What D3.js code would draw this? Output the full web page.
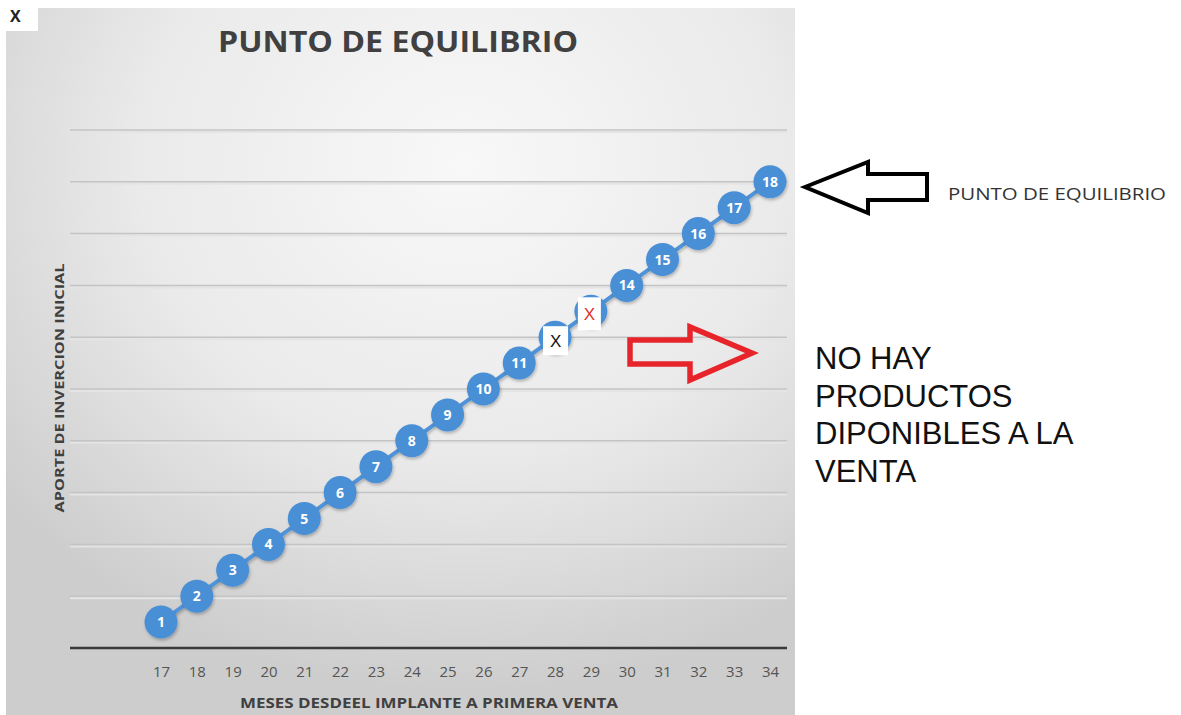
<!DOCTYPE html>
<html>
<head>
<meta charset="utf-8">
<script src="https://cdn.jsdelivr.net/npm/d3@7"></script>
<style>
  body { margin: 0; background: #fff; }
  svg { display: block; }
</style>
</head>
<body>
<div class="canvas"></div>
<script>
// months on the x axis and the counter shown inside each marker
const months = [17, 18, 19, 20, 21, 22, 23, 24, 25, 26, 27, 28, 29, 30, 31, 32, 33, 34];
const values = [1, 2, 3, 4, 5, 6, 7, 8, 9, 10, 11, 12, 13, 14, 15, 16, 17, 18];
// markers that are covered by a white box with an X
const hidden = [12, 13];
const yTicks = [0, 2, 4, 6, 8, 10, 12, 14, 16, 18, 20];
const noteLines = ['NO HAY', 'PRODUCTOS', 'DIPONIBLES A LA', 'VENTA'];

const width = 1181, height = 715;
const svg = d3.select('.canvas').append('svg')
  .attr('width', width)
  .attr('height', height);

const defs = svg.append('defs');
const grad = defs.append('radialGradient')
  .attr('id', 'panelGrad')
  .attr('cx', '58%').attr('cy', '22%').attr('r', '75%');
grad.append('stop').attr('offset', '0%').attr('stop-color', '#f8f8f8');
grad.append('stop').attr('offset', '55%').attr('stop-color', '#eaeaea');
grad.append('stop').attr('offset', '100%').attr('stop-color', '#cdcdcd');

const shadow = defs.append('filter').attr('id', 'soft')
  .attr('x', '-30%').attr('y', '-30%').attr('width', '160%').attr('height', '160%');
shadow.append('feDropShadow')
  .attr('dx', 1).attr('dy', 2).attr('stdDeviation', 1.5)
  .attr('flood-color', '#000').attr('flood-opacity', 0.25);

// chart panel
svg.append('rect')
  .attr('x', 6).attr('y', 8)
  .attr('width', 789).attr('height', 707)
  .attr('fill', 'url(#panelGrad)');

// scales
const x = d3.scaleLinear().domain([17, 34]).range([161, 770]);
const y = d3.scaleLinear().domain([0, 20]).range([648, 130]);

// gridlines
const grid = svg.append('g').attr('class', 'grid');
grid.selectAll('line.shade')
  .data(yTicks.slice(1))
  .enter().append('line')
    .attr('x1', 70).attr('x2', 787)
    .attr('y1', d => y(d) + 2).attr('y2', d => y(d) + 2)
    .attr('stroke', '#e4e4e4').attr('stroke-width', 2);
grid.selectAll('line.main')
  .data(yTicks.slice(1))
  .enter().append('line')
    .attr('x1', 70).attr('x2', 787)
    .attr('y1', d => y(d)).attr('y2', d => y(d))
    .attr('stroke', '#c4c4c4').attr('stroke-width', 1.5);

// x axis
const xAxis = d3.axisBottom(x)
  .tickValues(months)
  .tickSize(0)
  .tickPadding(18)
  .tickFormat(d3.format('d'));
const xAxisGroup = svg.append('g')
  .attr('transform', `translate(0, ${y(0)})`)
  .call(xAxis);
xAxisGroup.select('.domain').remove();
xAxisGroup.selectAll('text')
  .attr('fill', '#555')
  .style('font-family', '"Open Sans", sans-serif')
  .style('font-size', '15px');

svg.append('line')
  .attr('x1', 70).attr('x2', 787)
  .attr('y1', y(0)).attr('y2', y(0))
  .attr('stroke', '#3a3a3a').attr('stroke-width', 2.5);

// line + markers
const data = months.map((m, i) => ({ month: m, value: values[i] }));
const line = d3.line()
  .x(d => x(d.month))
  .y(d => y(d.value));

svg.append('path')
  .datum(data)
  .attr('fill', 'none')
  .attr('stroke', '#4f93d8')
  .attr('stroke-width', 4)
  .attr('filter', 'url(#soft)')
  .attr('d', line);

const markers = svg.selectAll('g.marker')
  .data(data)
  .enter().append('g')
    .attr('class', 'marker')
    .attr('transform', d => `translate(${x(d.month)}, ${y(d.value)})`);

markers.append('circle')
  .attr('r', 16.5)
  .attr('fill', '#4a8fd6')
  .attr('filter', 'url(#soft)');

markers.filter(d => !hidden.includes(d.value))
  .append('text')
    .attr('text-anchor', 'middle')
    .attr('dy', '0.36em')
    .attr('fill', '#fff')
    .style('font-family', '"Open Sans", sans-serif')
    .style('font-weight', 'bold')
    .style('font-size', '14px')
    .text(d => d.value);

// white boxes over the hidden markers
const boxes = [
  { value: 12, dx: -12, dy: -11, w: 25, h: 29, color: '#111' },
  { value: 13, dx: -13, dy: -14, w: 23, h: 33, color: '#e0302f' }
];
boxes.forEach(b => {
  const d = data.find(p => p.value === b.value);
  const g = svg.append('g')
    .attr('transform', `translate(${x(d.month)}, ${y(d.value)})`);
  g.append('rect')
    .attr('x', b.dx).attr('y', b.dy)
    .attr('width', b.w).attr('height', b.h)
    .attr('fill', '#fff');
  g.append('text')
    .attr('x', b.dx + b.w / 2)
    .attr('y', b.dy + b.h / 2)
    .attr('dy', '0.36em')
    .attr('text-anchor', 'middle')
    .attr('fill', b.color)
    .style('font-family', '"Liberation Sans", Arial, sans-serif')
    .style('font-size', '17px')
    .text('X');
});

// title
svg.append('text')
  .attr('x', 398).attr('y', 52)
  .attr('text-anchor', 'middle')
  .attr('fill', '#404040')
  .attr('textLength', 360)
  .attr('lengthAdjust', 'spacingAndGlyphs')
  .style('font-family', '"Open Sans", sans-serif')
  .style('font-weight', 'bold')
  .style('font-size', '28px')
  .text('PUNTO DE EQUILIBRIO');

// axis titles
svg.append('text')
  .attr('transform', 'translate(64, 388) rotate(-90)')
  .attr('text-anchor', 'middle')
  .attr('fill', '#404040')
  .attr('textLength', 249)
  .attr('lengthAdjust', 'spacingAndGlyphs')
  .style('font-family', '"Open Sans", sans-serif')
  .style('font-weight', 'bold')
  .style('font-size', '13px')
  .text('APORTE DE INVERCION INICIAL');

svg.append('text')
  .attr('x', 429).attr('y', 708)
  .attr('text-anchor', 'middle')
  .attr('fill', '#404040')
  .attr('textLength', 378)
  .attr('lengthAdjust', 'spacingAndGlyphs')
  .style('font-family', '"Open Sans", sans-serif')
  .style('font-weight', 'bold')
  .style('font-size', '14px')
  .text('MESES  DESDEEL IMPLANTE A PRIMERA VENTA');

// top-left "X" box
svg.append('rect')
  .attr('x', 0).attr('y', 0)
  .attr('width', 38).attr('height', 31)
  .attr('fill', '#fff');
svg.append('text')
  .attr('x', 10).attr('y', 22)
  .attr('fill', '#222')
  .style('font-family', '"Open Sans", sans-serif')
  .style('font-weight', 'bold')
  .style('font-size', '16px')
  .text('X');

// black arrow pointing at the last marker
const blackArrow = [[805, 187], [868, 162], [868, 174], [927, 174], [927, 200], [868, 200], [868, 213]];
svg.append('path')
  .attr('d', d3.line()(blackArrow) + 'Z')
  .attr('fill', 'none')
  .attr('stroke', '#000')
  .attr('stroke-width', 4)
  .attr('stroke-linejoin', 'miter');

svg.append('text')
  .attr('x', 948).attr('y', 200)
  .attr('fill', '#333')
  .attr('textLength', 218)
  .attr('lengthAdjust', 'spacingAndGlyphs')
  .style('font-family', '"Open Sans", sans-serif')
  .style('font-size', '16px')
  .text('PUNTO DE EQUILIBRIO');

// red arrow
const redArrow = [[630, 340], [690, 340], [690, 327], [752, 353], [690, 380], [690, 364], [630, 364]];
svg.append('path')
  .attr('d', d3.line()(redArrow) + 'Z')
  .attr('fill', 'none')
  .attr('stroke', '#e8242b')
  .attr('stroke-width', 5.5)
  .attr('stroke-linejoin', 'miter');

const note = svg.append('text')
  .attr('x', 815).attr('y', 369)
  .attr('fill', '#111')
  .style('font-family', '"Liberation Sans", Arial, sans-serif')
  .style('font-size', '31px');
note.selectAll('tspan')
  .data(noteLines)
  .enter().append('tspan')
    .attr('x', 815)
    .attr('dy', (d, i) => i === 0 ? 0 : 37.5)
    .text(d => d);
</script>
</body>
</html>
